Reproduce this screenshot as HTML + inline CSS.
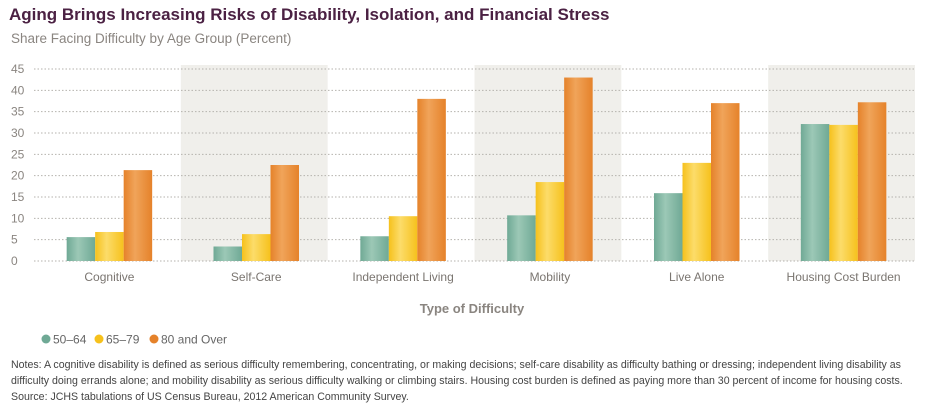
<!DOCTYPE html>
<html><head><meta charset="utf-8"><style>
body{margin:0;width:940px;height:409px;background:#fff;font-family:"Liberation Sans",sans-serif;overflow:hidden}
#title{position:absolute;left:9px;top:5px;font-size:17px;font-weight:bold;color:#4b2143}
#sub{position:absolute;left:11px;top:31px;font-size:13.5px;color:#8a8580}
#notes{position:absolute;left:11px;top:357px;font-size:10.6px;color:#444;line-height:16px;width:930px;white-space:nowrap}
svg{position:absolute;left:0;top:0}
</style></head><body>
<div id="title">Aging Brings Increasing Risks of Disability, Isolation, and Financial Stress</div>
<div id="sub">Share Facing Difficulty by Age Group (Percent)</div>
<svg width="940" height="409" id="chart"></svg>
<div id="notes">Notes: A cognitive disability is defined as serious difficulty remembering, concentrating, or making decisions; self-care disability as difficulty bathing or dressing; independent living disability as<br>difficulty doing errands alone; and mobility disability as serious difficulty walking or climbing stairs. Housing cost burden is defined as paying more than 30 percent of income for housing costs.<br>Source: JCHS tabulations of US Census Bureau, 2012 American Community Survey.</div>
<script>
const categories=["Cognitive","Self-Care","Independent Living","Mobility","Live Alone","Housing Cost Burden"];
const s5064=[5.6,3.4,5.8,10.7,15.9,32.1];
const s6579=[6.8,6.3,10.5,18.5,23.0,31.9];
const s80=[21.3,22.5,38.0,43.0,37.0,37.2];
const seriesNames=["50–64","65–79","80 and Over"];
const ticks=[0,5,10,15,20,25,30,35,40,45];
const svg=document.getElementById('chart');const NS="http://www.w3.org/2000/svg";
const L=34,R=915,Y0=261,Ytop=69,MAX=45;
const bw=(R-L)/categories.length;
const y=v=>Y0-(v/MAX)*(Y0-Ytop);
function mk(t,a){const e=document.createElementNS(NS,t);for(const k in a)e.setAttribute(k,a[k]);svg.appendChild(e);return e;}
const defs=mk('defs',{});
const cols=[["#6fa995","#9cc8b6"],["#f6c11c","#fcdc6a"],["#e5822a","#f0a45a"]];
cols.forEach((c,i)=>{const g=document.createElementNS(NS,'linearGradient');g.setAttribute('id','g'+i);
[[0,c[0]],[0.4,c[1]],[1,c[0]]].forEach(s=>{const st=document.createElementNS(NS,'stop');st.setAttribute('offset',s[0]);st.setAttribute('stop-color',s[1]);g.appendChild(st);});defs.appendChild(g);});
categories.forEach((c,i)=>{if(i%2==1){const r=mk('rect',{x:L+i*bw,y:Ytop-4,width:bw,height:Y0-Ytop+4,fill:'#f0efeb'});

}});
ticks.forEach(t=>{const l=mk('line',{x1:L,x2:R,y1:y(t),y2:y(t),stroke:'#b5b2ad','stroke-width':1,'stroke-dasharray':'1.5,2'});


const tx=mk('text',{x:11,y:y(t)+4,'font-size':12,fill:'#8a8580'});tx.textContent=t;

});
const series=[s5064,s6579,s80];
categories.forEach((c,i)=>{const cx=L+i*bw+bw/2+2;const w=28.5;
series.forEach((s,j)=>{const x=cx-1.5*w+j*w;const r=mk('rect',{x:x,y:y(s[i]),width:w,height:Y0-y(s[i]),fill:'url(#g'+j+')'});

});
const t=mk('text',{x:cx,y:281,'font-size':12,fill:'#7a7570','text-anchor':'middle'});t.textContent=c;

});
const xt=mk('text',{x:472,y:313,'font-size':13,'font-weight':'bold',fill:'#8a8580','text-anchor':'middle'});xt.textContent="Type of Difficulty";


const lx=[46,99,154];
seriesNames.forEach((n,j)=>{const c=mk('circle',{cx:lx[j],cy:339,r:4.5,fill:cols[j][0]});


const t=mk('text',{x:lx[j]+7,y:343.5,'font-size':12,fill:'#666'});t.textContent=n;

});
</script>
</body></html>
